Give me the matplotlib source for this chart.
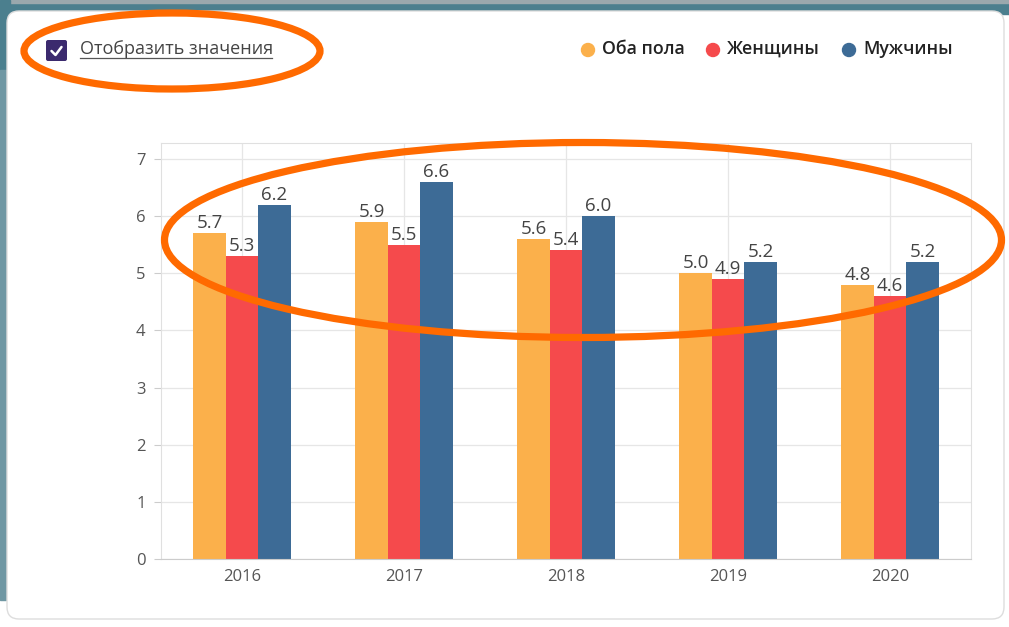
import matplotlib
matplotlib.use("Agg")
import matplotlib.pyplot as plt
import numpy as np
from matplotlib.patches import FancyBboxPatch, Ellipse, Rectangle, Circle

plt.rcParams['font.family'] = ['Open Sans', 'DejaVu Sans']

years = ['2016', '2017', '2018', '2019', '2020']
both = [5.7, 5.9, 5.6, 5.0, 4.8]
women = [5.3, 5.5, 5.4, 4.9, 4.6]
men = [6.2, 6.6, 6.0, 5.2, 5.2]
series_names = ['Оба пола', 'Женщины', 'Мужчины']
colors = ['#FBB04B', '#F54A4C', '#3D6B96']
yticks = [0, 1, 2, 3, 4, 5, 6, 7]

W, H = 1009, 627
fig = plt.figure(figsize=(W / 100, H / 100), dpi=100)

# фон в пиксельных координатах
bg = fig.add_axes([0, 0, 1, 1], zorder=0)
bg.set_xlim(0, W)
bg.set_ylim(H, 0)
bg.axis('off')
bg.add_patch(Rectangle((0, 0), W, 14, color='#4B7F8E'))
bg.add_patch(Rectangle((0, 0), W, 3, color='#9aa8ad'))
bg.add_patch(Rectangle((0, 0), 10, 70, color='#4B7F8E'))
bg.add_patch(Rectangle((0, 70), 6, 530, color='#6f97a3'))
bg.add_patch(FancyBboxPatch((7, 11), 997, 608, boxstyle='round,pad=0,rounding_size=12',
                            facecolor='white', edgecolor='#dddddd', lw=1))

# чекбокс
bg.add_patch(FancyBboxPatch((46, 40), 21, 21, boxstyle='round,pad=0,rounding_size=2',
                            facecolor='#3B2A6E', edgecolor='none'))
bg.plot([51.5, 55.5, 61.5], [51, 55, 47], color='white', lw=1.8, solid_capstyle='round')
bg.text(80, 49, 'Отобразить значения', fontsize=13, color='#444444', va='center', ha='left')
bg.plot([80, 272], [58, 58], color='#555555', lw=0.9)

# легенда
leg_x = [588, 713, 849]
for x, name, c in zip(leg_x, series_names, colors):
    bg.add_patch(Circle((x, 50), 6.5, color=c))
    bg.text(x + 14, 49, name, fontsize=12.8, color='#222222', va='center', ha='left',
            fontweight='semibold')

# сам график
ax = fig.add_axes([161 / W, 1 - 559 / H, (971 - 161) / W, (559 - 143) / H], zorder=1)
x = np.arange(len(years))
bw = 0.2
for i, (vals, c) in enumerate(zip([both, women, men], colors)):
    pos = x + (i - 1) * bw
    ax.bar(pos, vals, width=bw, color=c, zorder=2)
    for p, v in zip(pos, vals):
        ax.text(p, v + 0.02, f'{v:.1f}', ha='center', va='bottom', fontsize=13.5,
                color='#444444', zorder=3)

ax.set_xlim(-0.5, len(years) - 0.5)
ax.set_ylim(0, 7.28)
ax.set_xticks(x)
ax.set_xticklabels(years)
ax.set_yticks(yticks)
ax.grid(True, color='#e6e6e6', lw=0.9, zorder=0)
for s in ax.spines.values():
    s.set_color('#e0e0e0')
ax.spines['bottom'].set_color('#cccccc')
ax.tick_params(axis='x', length=0, pad=7, labelsize=12, labelcolor='#555555')
ax.tick_params(axis='y', length=5, color='#cccccc', pad=6, labelsize=12, labelcolor='#555555')

# оранжевые эллипсы поверх
ov = fig.add_axes([0, 0, 1, 1], zorder=5)
ov.set_xlim(0, W)
ov.set_ylim(H, 0)
ov.axis('off')
ov.patch.set_alpha(0)
ov.add_patch(Ellipse((172, 51), 296, 76, fill=False, edgecolor='#FF6A00', lw=5.2))
ov.add_patch(Ellipse((583, 240), 837, 195, fill=False, edgecolor='#FF6A00', lw=5.2))

fig.savefig('out.png', dpi=100)
